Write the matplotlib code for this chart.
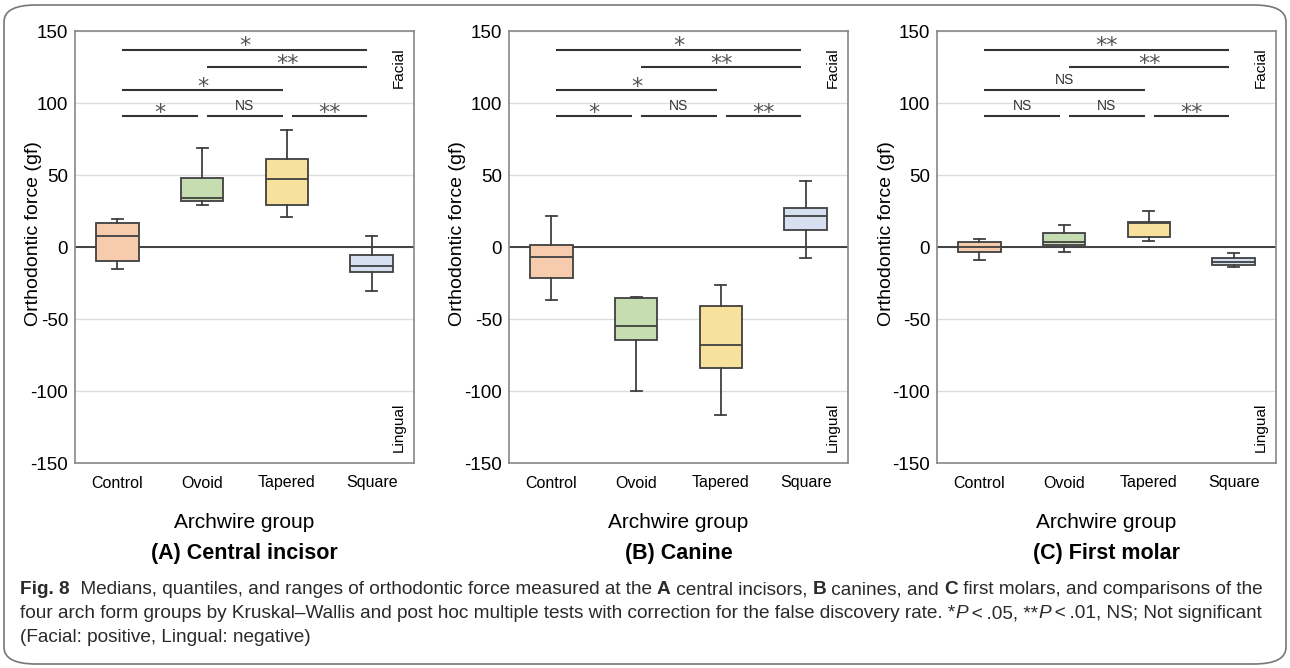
import numpy as np
import matplotlib.pyplot as plt
from matplotlib.patches import FancyBboxPatch

plt.rcParams['font.family'] = ['Liberation Sans', 'DejaVu Sans']

groups = ['Control', 'Ovoid', 'Tapered', 'Square']
colors = ['#F7CBAE', '#C6DDB1', '#F8E19C', '#D6E0F1']

# whisker low, Q1, median, Q3, whisker high
incisor = [[-15.6, -9.7, 7.5, 16.5, 19.4],
           [29.0, 31.7, 34.0, 48.0, 68.7],
           [20.8, 29.0, 47.2, 61.3, 81.0],
           [-30.6, -17.1, -13.2, -5.8, 7.6]]
canine = [[-36.8, -21.7, -7.2, 1.7, 21.8],
          [-99.7, -64.6, -55.0, -35.6, -34.5],
          [-117.0, -84.0, -68.3, -40.7, -26.1],
          [-7.6, 11.8, 21.3, 27.4, 45.6]]
molar = [[-8.8, -3.7, 0.0, 3.7, 5.8],
         [-3.5, 1.6, 3.7, 9.5, 15.3],
         [4.2, 6.7, 17.0, 17.4, 25.0],
         [-14.2, -12.8, -10.2, -7.4, -4.2]]

# pairwise comparisons: (from group, to group, level)
pairs = [(0, 3, 137), (1, 3, 125), (0, 2, 109), (0, 1, 91), (1, 2, 91), (2, 3, 91)]
sig_incisor = ['*', '**', '*', '*', 'NS', '**']
sig_canine = ['*', '**', '*', '*', 'NS', '**']
sig_molar = ['**', '**', 'NS', 'NS', 'NS', '**']

titles = ['(A) Central incisor', '(B) Canine', '(C) First molar']

fig = plt.figure(figsize=(12.9, 6.68), dpi=100)

# rounded frame
frame = FancyBboxPatch((4 / 1290, 4 / 668), 1282 / 1290, 659 / 668,
                       boxstyle='round,pad=0,rounding_size=0.025',
                       transform=fig.transFigure, fill=False,
                       edgecolor='#777777', linewidth=1.2)
fig.patches.append(frame)

lefts = [75, 509, 937]
label_x = [-0.097, -0.127, -0.124]
data = [incisor, canine, molar]
sigs = [sig_incisor, sig_canine, sig_molar]

for k in range(3):
    ax = fig.add_axes([lefts[k] / 1290, 1 - 463 / 668, 339 / 1290, 432 / 668])
    stats = []
    for g, v in zip(groups, data[k]):
        stats.append(dict(label=g, whislo=v[0], q1=v[1], med=v[2], q3=v[3], whishi=v[4], fliers=[]))
    bp = ax.bxp(stats, positions=range(4), widths=0.5, patch_artist=True, showfliers=False,
                boxprops=dict(edgecolor='#404040', linewidth=1.3),
                medianprops=dict(color='#404040', linewidth=1.3),
                whiskerprops=dict(color='#404040', linewidth=1.3),
                capprops=dict(color='#404040', linewidth=1.3), capwidths=0.13)
    for patch, c in zip(bp['boxes'], colors):
        patch.set_facecolor(c)
    ax.set_xlim(-0.5, 3.5)
    ax.set_ylim(-150, 150)
    ax.set_yticks([-150, -100, -50, 0, 50, 100, 150])
    ax.set_yticklabels(['-150', '-100', '-50', '0', '50', '100', '150'])
    ax.yaxis.grid(True, color='#dddddd', linewidth=1.0)
    ax.set_axisbelow(True)
    ax.axhline(0, color='#333333', linewidth=1.3, zorder=1)
    for s in ax.spines.values():
        s.set_color('#888888')
        s.set_linewidth(1.2)
    ax.tick_params(axis='both', length=0)
    ax.tick_params(axis='y', labelsize=13.5, pad=5)
    ax.tick_params(axis='x', labelsize=11.5, pad=9)
    ax.set_xlabel('Archwire group', fontsize=15, labelpad=16)
    ax.set_ylabel('Orthodontic force (gf)', fontsize=14)
    ax.yaxis.set_label_coords(label_x[k], 0.53)

    for (a, b, lvl), lab in zip(pairs, sigs[k]):
        x0, x1 = a + 0.06, b - 0.05
        ax.plot([x0, x1], [lvl, lvl], color='#333333', linewidth=1.5, solid_capstyle='butt')
        if lab == 'NS':
            ax.annotate(lab, xy=((x0 + x1) / 2, lvl), xytext=(0, 4.3), textcoords='offset points',
                        ha='center', va='baseline', fontsize=10, color='#333333')
        else:
            ax.annotate(lab, xy=((x0 + x1) / 2, lvl), xytext=(0, -2.0), textcoords='offset points',
                        ha='center', va='baseline', fontsize=16, color='#555555',
                        family=['DejaVu Sans'])

    ax.text(0.975, 0.914, 'Facial', transform=ax.transAxes, rotation=90,
            ha='right', va='center', fontsize=11)
    ax.text(0.975, 0.083, 'Lingual', transform=ax.transAxes, rotation=90,
            ha='right', va='center', fontsize=11)

    cx = (lefts[k] + 339 / 2) / 1290
    fig.text(cx, 1 - 554 / 668, titles[k], ha='center', va='center',
             fontsize=15.5, fontweight='bold')

# caption with mixed weights, placed piece by piece
cap_size = 13.65
renderer = fig.canvas.get_renderer()


def write_line(pieces, x_px, y_px):
    x = x_px
    for txt, style in pieces:
        kw = dict(fontsize=cap_size, color='#2a2a2a', va='center', ha='left')
        if style == 'b':
            kw['fontweight'] = 'bold'
        elif style == 'i':
            kw['fontstyle'] = 'italic'
        t = fig.text(x / 1290, 1 - y_px / 668, txt, **kw)
        bb = t.get_window_extent(renderer=renderer)
        x += bb.width


line1 = [('Fig. 8', 'b'), ('  Medians, quantiles, and ranges of orthodontic force measured at the ', ''),
         ('A', 'b'), (' central incisors, ', ''), ('B', 'b'), (' canines, and ', ''), ('C', 'b'),
         (' first molars, and comparisons of the', '')]
line2 = [('four arch form groups by Kruskal\u2013Wallis and post hoc multiple tests with correction '
          'for the false discovery rate. *', ''), ('P', 'i'), ('\u2009<\u2009.05, **', ''), ('P', 'i'),
         ('\u2009<\u2009.01, NS; Not significant', '')]
line3 = [('(Facial: positive, Lingual: negative)', '')]

write_line(line1, 20, 590)
write_line(line2, 20, 614)
write_line(line3, 20, 638)

fig.savefig('out.png', dpi=100)
